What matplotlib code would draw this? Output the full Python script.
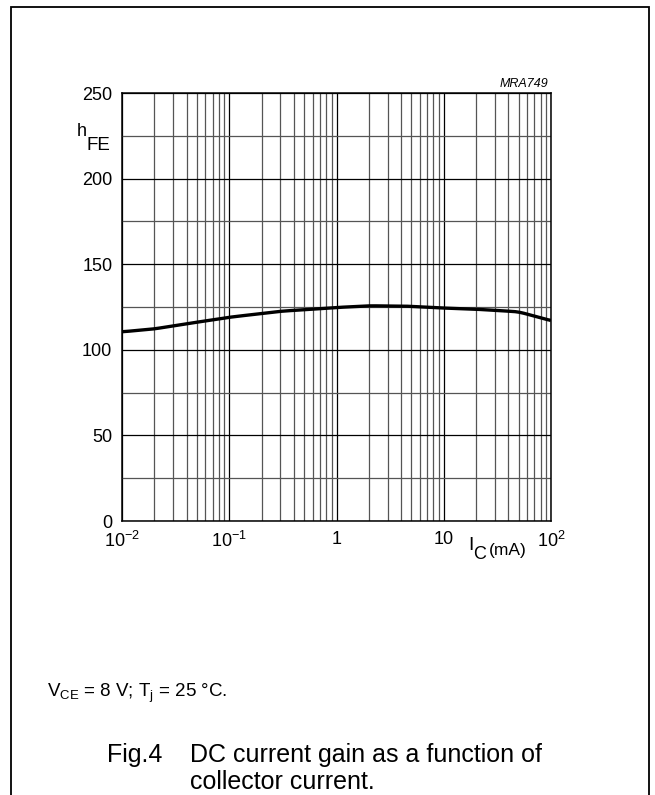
import matplotlib
matplotlib.use("Agg")
import matplotlib.pyplot as plt
import numpy as np
from matplotlib.ticker import LogLocator, NullFormatter, FixedLocator

plt.rcParams['font.family'] = ['Liberation Sans', 'DejaVu Sans']
plt.rcParams['mathtext.fontset'] = 'custom'
plt.rcParams['mathtext.rm'] = 'Liberation Sans'
plt.rcParams['mathtext.it'] = 'Liberation Sans:italic'

# data (I_C in mA, hFE)
ic_ma = [0.01, 0.02, 0.03, 0.1, 0.3, 1, 2, 4.5, 9, 20, 50, 70, 100]
hfe = [110.5, 112.2, 114, 119, 122.5, 124.7, 125.7, 125.5, 124.5, 123.7, 122.2, 119.6, 117]
y_ticks = [0, 50, 100, 150, 200, 250]
x_ticks = [0.01, 0.1, 1, 10, 100]
x_ticklabels = [r'$10^{-2}$', r'$10^{-1}$', '1', '10', r'$10^{2}$']

W, H = 655, 795
fig = plt.figure(figsize=(W/100, H/100), dpi=100)

# outer frame
frame = plt.Rectangle((11/W, -0.01), (649-11)/W, (1 - 7/H) + 0.01, transform=fig.transFigure,
                      fill=False, edgecolor='black', linewidth=1.3)
fig.patches.append(frame)

left, right, top, bottom = 122, 551, 93, 521
ax = fig.add_axes([left/W, 1 - bottom/H, (right-left)/W, (bottom-top)/H])

lx = np.log10(ic_ma)
xs = np.linspace(lx[0], lx[-1], 300)
ys = np.interp(xs, lx, hfe)
k = 9
ker = np.ones(k)/k
ys_pad = np.concatenate([np.full(k//2, ys[0]), ys, np.full(k//2, ys[-1])])
ys_s = np.convolve(ys_pad, ker, mode='valid')
ys_s[0] = ys[0]; ys_s[-1] = ys[-1]
ax.plot(10**xs, ys_s, color='black', linewidth=2.4, solid_capstyle='butt', zorder=3)

ax.set_xscale('log')
ax.set_xlim(0.01, 100)
ax.set_ylim(0, 250)
ax.xaxis.set_major_locator(FixedLocator(x_ticks))
ax.set_xticklabels(x_ticklabels)
ax.xaxis.set_minor_locator(LogLocator(base=10, subs=np.arange(2, 10)))
ax.xaxis.set_minor_formatter(NullFormatter())
ax.yaxis.set_major_locator(FixedLocator(y_ticks))
ax.yaxis.set_minor_locator(FixedLocator(np.arange(25, 250, 50)))

ax.grid(True, which='major', axis='both', color='black', linewidth=0.9)
ax.grid(True, which='minor', axis='both', color='#555555', linewidth=0.9)
ax.tick_params(which='both', length=0, labelsize=13)
ax.tick_params(axis='x', pad=7)
ax.tick_params(axis='y', pad=7)
for s in ax.spines.values():
    s.set_linewidth(1.1)

fig.text(77/W, 1 - 136/H, 'h', fontsize=13, ha='left', va='baseline')
fig.text(87/W, 1 - 150/H, 'FE', fontsize=13.5, ha='left', va='baseline')
fig.text(548/W, 1 - 87/H, 'MRA749', fontsize=9, style='italic', ha='right', va='baseline')
fig.text(468/W, 1 - 550/H, 'I', fontsize=14, ha='left', va='baseline')
fig.text(473/W, 1 - 559/H, 'C', fontsize=13, ha='left', va='baseline')
fig.text(489/W, 1 - 555/H, '(mA)', fontsize=12.5, ha='left', va='baseline')

fig.text(47/W, 1 - 697/H, r'$\mathregular{V_{CE}}$ = 8 V; $\mathregular{T_j}$ = 25 °C.', fontsize=13.5,
         ha='left', va='baseline')
fig.text(107/W, 1 - 762/H, 'Fig.4', fontsize=18, ha='left', va='baseline')
fig.text(190/W, 1 - 762/H, 'DC current gain as a function of', fontsize=18, ha='left', va='baseline')
fig.text(190/W, 1 - 789/H, 'collector current.', fontsize=18, ha='left', va='baseline')

fig.savefig('out.png', dpi=100)
